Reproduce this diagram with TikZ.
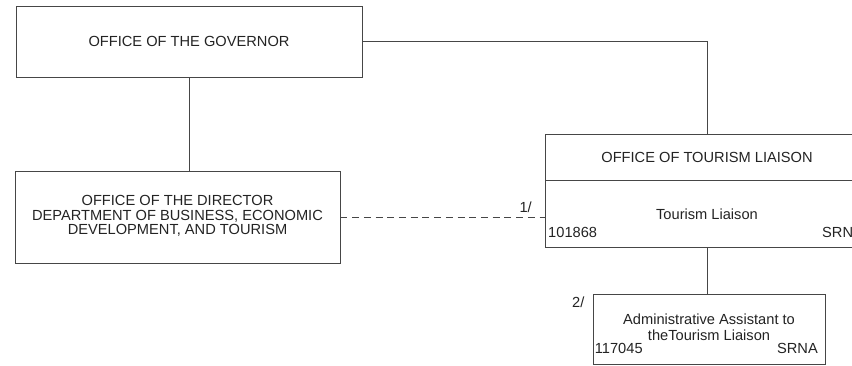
\documentclass[tikz,border=0pt]{standalone}
\usepackage{fontspec}
\setmainfont{Liberation Sans}
\definecolor{trazo}{RGB}{70,70,70}
\definecolor{tinta}{RGB}{35,35,35}
\usetikzlibrary{positioning}

\begin{document}
\begin{tikzpicture}[x=0.03cm,y=-0.03cm,
    caja/.style={draw=trazo,line width=0.6pt,align=center,text=tinta,
      font=\fontsize{12.5}{13.5}\selectfont,inner sep=0pt},
    nota/.style={text=tinta,font=\fontsize{12.5}{13.5}\selectfont,inner sep=0pt},
    linea/.style={draw=trazo,line width=0.6pt}]
  \useasboundingbox (0,0) rectangle (852,365);
  \clip (0,0) rectangle (852,365);
  % boxes
  \node[caja,minimum width=10.38cm,minimum height=2.13cm] (gov) at (189,41.5)
    {OFFICE OF THE GOVERNOR};
  \node[caja,minimum width=9.75cm,minimum height=2.76cm] (dir) at (177.5,217)
    {\raisebox{0.06cm}{\begin{tabular}{@{}c@{}}OFFICE OF THE DIRECTOR\\[-1pt]DEPARTMENT OF BUSINESS, ECONOMIC\\[-1pt]DEVELOPMENT, AND TOURISM\end{tabular}}};
  \node[caja,minimum width=9.72cm,minimum height=1.38cm] (tl) at (707,157)
    {OFFICE OF TOURISM LIAISON};
  \node[caja,minimum width=9.72cm,minimum height=2.01cm,below=0pt of tl] (tpos)
    {Tourism Liaison};
  \node[caja,minimum width=6.96cm,minimum height=2.1cm] (adm) at (709,329)
    {\raisebox{0.14cm}{\begin{tabular}{@{}c@{}}Administrative Assistant to\\[0pt]theTourism Liaison\end{tabular}}};
  % position numbers
  \node[nota,above right=0.3cm and 0.1cm of tpos.south west] (tlnum) {101868};
  \node[nota,above left=0.3cm and 0.48cm of tpos.south east] (tlcls) {SRN};
  \node[nota,above right=0.3cm and 0.06cm of adm.south west] (admnum) {117045};
  \node[nota,above left=0.3cm and 0.22cm of adm.south east] (admcls) {SRNA};
  % connectors
  \draw[linea] (gov.south) -- (gov.south |- dir.north);
  \draw[linea] (gov.east) -- (gov.east -| tl.north) -- (tl.north);
  \draw[linea] (tpos.south) -- (tpos.south |- adm.north);
  \coordinate (dend) at (dir.east -| tpos.west);
  \draw[linea,dash pattern=on 6pt off 4pt] (dir.east) -- (dend);
  % footnote marks
  \node[nota,above left=0.12cm and 0.38cm of dend] (n1) {1/};
  \node[nota,below left=0.1cm and 0.24cm of adm.north west] (n2) {2/};
\end{tikzpicture}
\end{document}
